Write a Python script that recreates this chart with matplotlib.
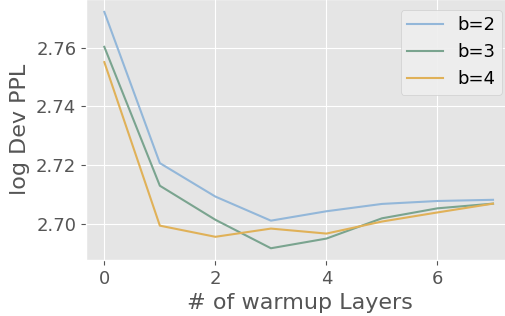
import matplotlib
matplotlib.use("Agg")
import matplotlib.pyplot as plt

plt.style.use("ggplot")

layers = [0, 1, 2, 3, 4, 5, 6, 7]
b2 = [2.7722, 2.7207, 2.7093, 2.7011, 2.7043, 2.7068, 2.7078, 2.7082]
b3 = [2.7603, 2.7130, 2.7014, 2.6917, 2.6950, 2.7019, 2.7053, 2.7069]
b4 = [2.7551, 2.6994, 2.6956, 2.6984, 2.6967, 2.7008, 2.7039, 2.7069]
series = [("b=2", b2, "#93B7D9"), ("b=3", b3, "#7AA48F"), ("b=4", b4, "#E0B158")]

fig = plt.figure(figsize=(5.06, 3.16), dpi=100)
ax = fig.add_axes([86/506, 56/316, 427/506, 261/316])
for lab, vals, col in series:
    ax.plot(layers, vals, color=col, lw=1.5, label=lab)

ax.set_xlim(-0.33, 7.36)
ax.set_ylim(2.6877, 2.7766)
ax.set_xticks([0, 2, 4, 6])
ax.set_yticks([2.70, 2.72, 2.74, 2.76])
ax.tick_params(labelsize=13, colors="#555555")
ax.set_xlabel("# of warmup Layers", fontsize=16, color="#555555", labelpad=4)
ax.set_ylabel("log Dev PPL", fontsize=16, color="#555555", labelpad=4)
leg = ax.legend(fontsize=13, loc="upper right", facecolor="#EEEEEE", edgecolor="#CCCCCC",
                framealpha=0.9, handlelength=2.0, borderpad=0.35, borderaxespad=0,
                bbox_to_anchor=(502/506, 1 - 10/316), bbox_transform=fig.transFigure)
for t in leg.get_texts():
    t.set_color("black")

fig.savefig("out.png", dpi=100)
